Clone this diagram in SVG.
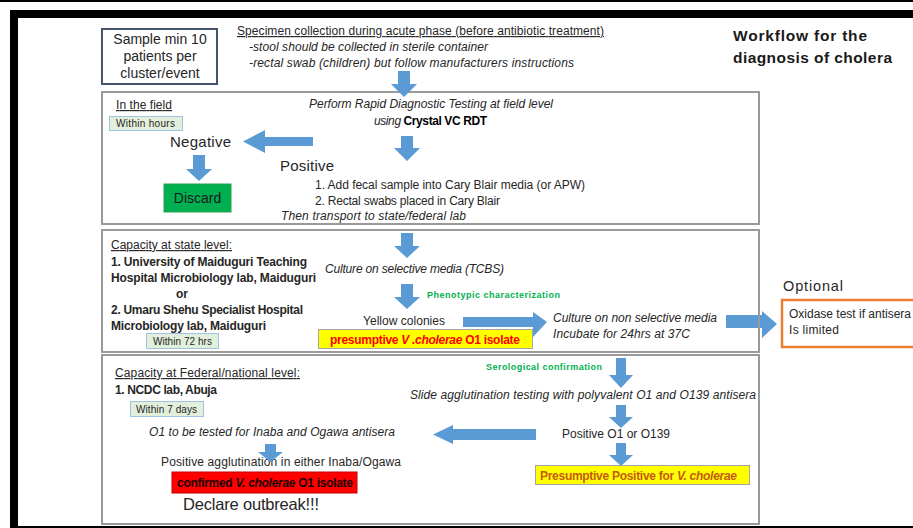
<svg xmlns="http://www.w3.org/2000/svg" width="913" height="528" viewBox="0 0 913 528">
<style>
text{font-family:"Liberation Sans",Arial,sans-serif;fill:#262626;font-size:12px}
.it{font-style:italic}
.b{font-weight:bold}
.u{text-decoration:underline}
.big{font-size:15px}
.grn{fill:#00b050;font-weight:bold;font-size:9px}
.badge{fill:#e2efda;stroke:#9dc3e6;stroke-width:1}
.bt{font-size:10px}
.panel{fill:none;stroke:#9a9a9a;stroke-width:2}
.arr{fill:#5b9bd5}
</style>
<rect x="0" y="0" width="913" height="528" fill="#fff"/>
<g id="frame">
<rect x="0" y="0" width="913" height="2" fill="#000"/>
<rect x="10" y="10" width="903" height="8" fill="#000"/>
<rect x="10" y="10" width="8" height="518" fill="#000"/>
<rect x="10" y="526" width="903" height="2" fill="#000"/>
</g>
<g id="title">
<text x="733" y="41" class="b" style="font-size:15.5px;fill:#1a1a1a" textLength="134">Workflow for the</text>
<text x="733" y="63" class="b" style="font-size:15.5px;fill:#1a1a1a" textLength="159">diagnosis  of cholera</text>
</g>
<g id="sample">
<rect x="102" y="29" width="115" height="55" fill="#fff" stroke="#44546a" stroke-width="2"/>
<text x="160" y="44" text-anchor="middle" style="font-size:14px">Sample min 10</text>
<text x="160" y="61" text-anchor="middle" style="font-size:14px">patients per</text>
<text x="160" y="78" text-anchor="middle" style="font-size:14px">cluster/event</text>
</g>
<g id="specimen">
<text x="237" y="35" class="u" textLength="367">Specimen collection during acute phase (before antibiotic treatment)</text>
<text x="249" y="51" class="it" textLength="239">-stool should be collected in sterile container</text>
<text x="249" y="67" class="it" textLength="325">-rectal swab (children) but follow manufacturers instructions</text>
</g>
<g id="field">
<rect class="panel" x="102" y="92" width="657" height="132"/>
<text x="116" y="109" class="u" textLength="56">In the field</text>
<rect class="badge" x="109.5" y="116.5" width="73" height="14"/>
<text x="116" y="127" class="bt" textLength="59">Within hours</text>
<text x="309" y="108" class="it" textLength="244">Perform Rapid Diagnostic Testing at field level</text>
<text x="374" y="125" textLength="113"><tspan class="it">using </tspan><tspan class="b" fill="#000">Crystal VC RDT</tspan></text>
<text x="170" y="147" class="big" textLength="61">Negative</text>
<text x="280" y="171" class="big" textLength="54">Positive</text>
<text x="315" y="189" textLength="270">1. Add fecal sample into Cary Blair media (or APW)</text>
<text x="315" y="205" textLength="185">2. Rectal swabs placed in Cary Blair</text>
<text x="281" y="220" class="it" textLength="185">Then transport to state/federal lab</text>
</g>
<g id="discard">
<rect x="164" y="184" width="67" height="28" fill="#00b050" stroke="#2e9e4f" stroke-width="1"/>
<text x="197.5" y="203" text-anchor="middle" style="font-size:14px;fill:#1a1a1a">Discard</text>
</g>
<g id="state">
<rect class="panel" x="102" y="230" width="657" height="122"/>
<text x="111" y="249" class="u" textLength="121">Capacity at state level:</text>
<text x="111" y="266" class="b" textLength="196">1. University of Maiduguri Teaching</text>
<text x="111" y="282" class="b" textLength="205">Hospital Microbiology lab, Maiduguri</text>
<text x="176" y="298" class="b">or</text>
<text x="111" y="314" class="b" textLength="192">2. Umaru Shehu Specialist Hospital</text>
<text x="111" y="330" class="b" textLength="155">Microbiology lab, Maiduguri</text>
<rect class="badge" x="146.5" y="333.5" width="72" height="15"/>
<text x="153" y="345" class="bt" textLength="59">Within 72 hrs</text>
<text x="325" y="273" class="it" textLength="179">Culture on selective  media (TCBS)</text>
<text x="427" y="298" class="grn" textLength="133">Phenotypic characterization</text>
<text x="363" y="325" textLength="82">Yellow colonies</text>
<text x="553" y="322" class="it" textLength="164">Culture on non selective  media</text>
<text x="553" y="338" class="it" textLength="137">Incubate for 24hrs at 37C</text>
</g>
<g id="presumptive-o1">
<rect x="318.5" y="329.5" width="214" height="19" fill="#ffff00" stroke="#a5a5a5" stroke-width="1"/>
<text x="330" y="344" class="b" style="fill:#ff0000" textLength="190">presumptive <tspan class="it">V .cholerae</tspan> O1 isolate</text>
</g>
<g id="optional">
<text x="783" y="291" style="font-size:14.5px" textLength="60">Optional</text>
<rect x="782" y="300" width="140" height="47" fill="#fff" stroke="#ed7d31" stroke-width="2.5"/>
<text x="789" y="318" textLength="122">Oxidase test if antisera</text>
<text x="789" y="334" textLength="50">Is limited</text>
</g>
<g id="federal">
<rect class="panel" x="102" y="355" width="657" height="169"/>
<text x="115" y="377" class="u" textLength="185">Capacity at Federal/national  level:</text>
<text x="115" y="394" class="b" textLength="102">1. NCDC lab, Abuja</text>
<rect class="badge" x="130.5" y="401.5" width="73" height="15"/>
<text x="136" y="413" class="bt" textLength="61">Within 7 days</text>
<text x="486" y="370" class="grn" textLength="116">Serological confirmation</text>
<text x="410" y="399" class="it" textLength="346">Slide agglutination testing with polyvalent O1 and O139 antisera</text>
<text x="562" y="438" textLength="108">Positive  O1 or O139</text>
<text x="149" y="436" class="it" textLength="246">O1 to be tested for Inaba and Ogawa antisera</text>
<text x="161" y="466" textLength="240">Positive agglutination in either Inaba/Ogawa</text>
<text x="183" y="510" style="font-size:16.5px" textLength="136">Declare outbreak!!!</text>
</g>
<g id="presumptive-positive">
<rect x="535.5" y="465.5" width="214" height="19" fill="#ffff00" stroke="#a5a5a5" stroke-width="1"/>
<text x="540" y="480" class="b" style="fill:#c55a11" textLength="197">Presumptive Positive for <tspan class="it">V. cholerae</tspan></text>
</g>
<g id="confirmed">
<rect x="172" y="472" width="185" height="21" fill="#ff0000" stroke="#c00000" stroke-width="1"/>
<text x="177" y="487" class="b" style="fill:#1a0000" textLength="176">confirmed <tspan class="it">V. cholerae</tspan> O1 isolate</text>
</g>
<g id="connectors">
<polygon class="arr" points="398,71 410,71 410,84 417,84 404,97 391,84 398,84"/>
<polygon class="arr" points="401,136 413,136 413,148 420,148 407,161 394,148 401,148"/>
<polygon class="arr" points="313,137 265,137 265,130 243,141.5 265,153 265,146 313,146"/>
<polygon class="arr" points="193,155 205,155 205,169 212,169 199,181 186,169 193,169"/>
<polygon class="arr" points="401,233 413,233 413,246 420,246 407,258 394,246 401,246"/>
<polygon class="arr" points="401,284 413,284 413,297 420,297 407,309 394,297 401,297"/>
<polygon class="arr" points="463,317 533,317 533,312 547,322 533,337 533,327 463,327"/>
<polygon class="arr" points="726,315 762,315 762,311 777,324 762,338 762,328 726,328"/>
<polygon class="arr" points="616,358 626,358 626,375 633,375 621,388 609,375 616,375"/>
<polygon class="arr" points="616,405 626,405 626,417 633,417 621,428 609,417 616,417"/>
<polygon class="arr" points="616,443 626,443 626,455 633,455 621,466 609,455 616,455"/>
<polygon class="arr" points="536,429 453,429 453,425 433,434.5 453,444 453,440 536,440"/>
<polygon class="arr" points="265,444 276,444 276,452 283,452 270.5,462 258,452 265,452"/>
</g>
<line x1="759" y1="300" x2="759" y2="352" stroke="#9a9a9a" stroke-width="2"/>
</svg>
